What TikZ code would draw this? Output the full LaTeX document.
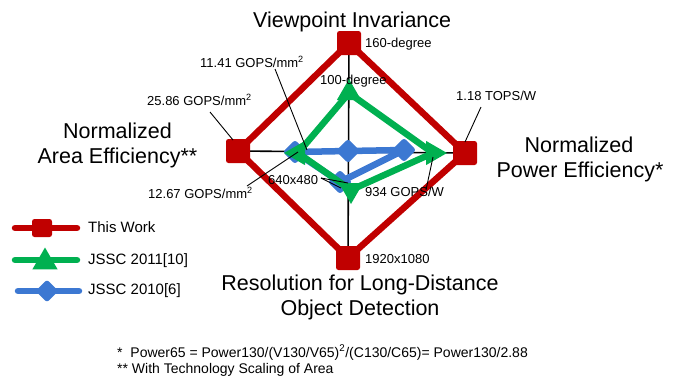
\documentclass[tikz,border=0pt]{standalone}
\usepackage{fontspec}
\setmainfont{Liberation Sans}
\usetikzlibrary{shapes.geometric}
\definecolor{workred}{RGB}{192,0,0}
\definecolor{jsscgreen}{RGB}{0,176,80}
\definecolor{jsscblue}{RGB}{60,120,210}
\begin{document}
\begin{tikzpicture}[x=1pt,y=-1pt,
  axisline/.style={black, line width=1.6pt},
  leader/.style={black, line width=0.9pt},
  redline/.style={workred, line width=6.5pt, line join=round, line cap=round},
  greenline/.style={jsscgreen, line width=6.5pt, line join=round, line cap=round},
  blueline/.style={jsscblue, line width=6.5pt, line join=round, line cap=round},
  redmark/.style={fill=workred, draw=none, rectangle, rounded corners=2.5pt, minimum size=24pt, inner sep=0pt},
  greenmark/.style={fill=jsscgreen, draw=none, regular polygon, regular polygon sides=3, minimum size=28pt, inner sep=0pt},
  bluemark/.style={fill=jsscblue, draw=none, rectangle, rounded corners=2.5pt, minimum size=17pt, inner sep=0pt, rotate=45},
  title/.style={inner sep=0pt, font=\fontsize{21.5}{25}\selectfont},
  label/.style={inner sep=0pt, anchor=base west, font=\fontsize{13}{15}\selectfont},
  legtext/.style={inner sep=0pt, anchor=base west, font=\fontsize{15}{18}\selectfont},
  foot/.style={inner sep=0pt, anchor=base west, font=\fontsize{14}{16}\selectfont},
]
\useasboundingbox (0,0) rectangle (686,381);

% axis end points (This Work)
\coordinate (rT) at (349,43);
\coordinate (rR) at (465,153);
\coordinate (rB) at (348,258);
\coordinate (rL) at (238,151);

% JSSC 2011 points
\coordinate (gT) at (349,93);
\coordinate (gR) at (433,153);
\coordinate (gB) at (351,190);
\coordinate (gL) at (298,153);

% JSSC 2010 points
\coordinate (bT) at (348,151);
\coordinate (bR) at (404,150);
\coordinate (bB) at (340,182);
\coordinate (bL) at (295,152);

% axes
\draw[axisline] (rT) -- (rB);
\draw[axisline] (rL) -- (rR);

% This Work
\draw[redline] (rT) -- (rR) -- (rB) -- (rL) -- cycle;
\node[redmark] (mT) at (rT) {};
\node[redmark] (mR) at (rR) {};
\node[redmark] (mB) at (rB) {};
\node[redmark] (mL) at (rL) {};

% JSSC 2010
\draw[blueline] (bL) -- (bT) -- (bR) -- (bB) -- cycle;
\node[bluemark] (dT) at (bT) {};
\node[bluemark] (dR) at (bR) {};
\node[bluemark] (dB) at (bB) {};
\node[bluemark] (dL) at (bL) {};

% JSSC 2011
\draw[greenline] (gT) -- (gR) -- (gB) -- (gL) -- cycle;
\node[greenmark] (tT) at (gT) {};
\node[greenmark, rotate=-90] (tR) at (gR) {};
\node[greenmark, rotate=180] (tB) at (gB) {};
\node[greenmark, rotate=90] (tL) at (gL) {};

% value labels
\node[label] (l160) at (365,47) {160-degree};
\node[label] (l100) at (320,84) {100-degree};
\node[label] (l1141) at (200,67) {11.41 GOPS/mm\textsuperscript{2}};
\node[label] (l2586) at (147,105) {25.86 GOPS/mm\textsuperscript{2}};
\node[label] (l118) at (456,100) {1.18 TOPS/W};
\node[label] (l1267) at (148,198) {12.67 GOPS/mm\textsuperscript{2}};
\node[label] (l640) at (268,184) {640x480};
\node[label] (l934) at (365,196) {934 GOPS/W};
\node[label] (l1920) at (365,263) {1920x1080};

% leader lines
\coordinate (k1a) at (275,69);  \coordinate (k1b) at (307,150);
\coordinate (k2a) at (210,112); \coordinate (k2b) at (233,140);
\coordinate (k3a) at (481,107); \coordinate (k3b) at (465,142);
\coordinate (k4a) at (247,186); \coordinate (k4b) at (298,152);
\coordinate (k5a) at (321,178); \coordinate (k5b) at (348,183); \coordinate (k5c) at (341,188);
\coordinate (k6a) at (426,190); \coordinate (k6b) at (433,157);
\draw[leader] (k1a) -- (k1b);
\draw[leader] (k2a) -- (k2b);
\draw[leader] (k3a) -- (k3b);
\draw[leader] (k4a) -- (k4b);
\draw[leader] (k5a) -- (k5b);
\draw[leader] (k5a) -- (k5c);
\draw[leader] (k6a) -- (k6b);

% axis titles
\node[title, anchor=base west] (tView) at (253,27) {Viewpoint Invariance};
\node[title, anchor=base] (tArea1) at (117.5,138) {Normalized};
\node[title, anchor=base] (tArea2) at (117.5,163) {Area Efficiency**};
\node[title, anchor=base] (tPow1) at (579,152) {Normalized};
\node[title, anchor=base] (tPow2) at (580,177) {Power Efficiency*};
\node[title, anchor=base] (tRes1) at (360,290) {Resolution for Long-Distance};
\node[title, anchor=base] (tRes2) at (360,315) {Object Detection};

% legend
\coordinate (la1) at (15,228); \coordinate (la2) at (77,228);
\coordinate (lb1) at (15,260); \coordinate (lb2) at (77,260);
\coordinate (lc1) at (18,291); \coordinate (lc2) at (79,291);
\draw[redline] (la1) -- (la2);
\node[redmark, minimum width=20pt, minimum height=18pt] (legR) at (42,228) {};
\draw[greenline] (lb1) -- (lb2);
\node[greenmark, minimum size=29pt] (legG) at (45,262) {};
\draw[blueline] (lc1) -- (lc2);
\node[bluemark, minimum size=16pt] (legB) at (47,291) {};
\node[legtext] (txA) at (88,232) {This Work};
\node[legtext] (txB) at (88,264) {JSSC 2011[10]};
\node[legtext] (txC) at (88,294) {JSSC 2010[6]};

% footnotes
\node[foot] (fn1) at (117,357) {*\ \ Power65 = Power130/(V130/V65)\textsuperscript{2}/(C130/C65)= Power130/2.88};
\node[foot] (fn2) at (117,373) {** With Technology Scaling of Area};
\end{tikzpicture}
\end{document}
